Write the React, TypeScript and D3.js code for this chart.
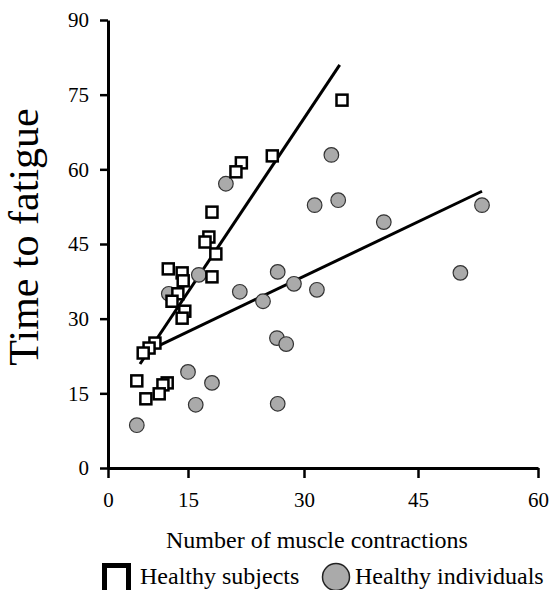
import React, { useRef, useEffect } from 'react';
import * as d3 from 'd3';

// [contractions, time to fatigue]
const healthySubjects: [number, number][] = [
  [35.0, 73.9], [25.9, 62.7], [21.9, 61.3], [21.2, 59.5], [18.1, 51.4],
  [17.7, 46.4], [17.2, 45.4], [18.6, 43.0], [11.3, 40.0], [13.9, 39.2],
  [14.1, 37.6], [18.1, 38.4], [13.1, 35.0], [12.0, 33.5], [14.4, 31.5],
  [13.9, 30.1], [8.8, 25.1], [7.7, 24.1], [6.6, 23.1], [5.4, 17.5],
  [11.1, 17.1], [10.3, 16.7], [9.6, 14.9], [7.1, 13.9],
];

const healthyIndividuals: [number, number][] = [
  [33.6, 62.9], [31.4, 52.8], [34.5, 53.8], [40.5, 49.4], [53.0, 52.8],
  [50.3, 39.2], [26.6, 39.4], [28.7, 37.0], [31.7, 35.8], [21.7, 35.4],
  [24.7, 33.5], [26.5, 26.1], [27.7, 24.9], [26.6, 12.9], [19.9, 57.1],
  [16.4, 38.8], [11.4, 35.0], [15.0, 19.3], [18.1, 17.1], [16.0, 12.7],
  [5.4, 8.6],
];

// regression line end points
const subjectsFit: [number, number][] = [[6.0, 20.9], [34.7, 81.0]];
const individualsFit: [number, number][] = [[9.75, 24.7], [53.0, 55.6]];

const xTicks = [0, 15, 30, 45, 60];
const yTicks = [0, 15, 30, 45, 60, 75, 90];

const legendLabels = ["Healthy subjects", "Healthy individuals"];

const FONT = "'Liberation Serif', 'Times New Roman', Times, serif";

const ScatterChart: React.FC = () => {
  const svgRef = useRef<SVGSVGElement>(null);

  useEffect(() => {
    if (!svgRef.current) return;
    const svg = d3.select(svgRef.current);
    svg.selectAll("*").remove();

    // the original axis does not space its ticks evenly
    const x = d3.scaleLinear().domain(xTicks).range([108, 188, 304, 418, 538]);
    const y = d3.scaleLinear().domain([0, 90]).range([468, 20]);

    // axes
    const xAxis = svg.append("g")
      .attr("transform", `translate(0,${y(0)})`)
      .call(d3.axisBottom(x).tickValues(xTicks).tickSize(10).tickSizeOuter(0))
      .attr("font-family", FONT)
      .attr("font-size", 21);
    xAxis.select(".domain").attr("stroke", "#000").attr("stroke-width", 3);
    xAxis.selectAll(".tick line").attr("stroke", "#000").attr("stroke-width", 2.5);
    xAxis.selectAll("text")
      .attr("y", 39).attr("dy", 0)
      .attr("fill", "#000");

    const yAxis = svg.append("g")
      .attr("transform", `translate(${x(0)},0)`)
      .call(d3.axisLeft(y).tickValues(yTicks).tickSize(8).tickSizeOuter(0))
      .attr("font-family", FONT)
      .attr("font-size", 21);
    yAxis.select(".domain").attr("stroke", "#000").attr("stroke-width", 3);
    yAxis.selectAll(".tick line").attr("stroke", "#000").attr("stroke-width", 2.5);
    yAxis.selectAll("text")
      .attr("x", -19).attr("dy", "0.33em")
      .attr("fill", "#000");

    // titles
    svg.append("text")
      .attr("x", 317).attr("y", 548)
      .attr("text-anchor", "middle")
      .attr("font-family", FONT).attr("font-size", 24)
      .text("Number of muscle contractions");

    svg.append("text")
      .attr("transform", "translate(38,237) rotate(-90)")
      .attr("text-anchor", "middle")
      .attr("font-family", FONT).attr("font-size", 42)
      .text("Time to fatigue");

    // fit lines
    const line = d3.line<[number, number]>()
      .x(d => x(d[0]))
      .y(d => y(d[1]));

    [subjectsFit, individualsFit].forEach(fit => {
      svg.append("path")
        .datum(fit)
        .attr("fill", "none")
        .attr("stroke", "#000")
        .attr("stroke-width", 3)
        .attr("d", line);
    });

    // points
    svg.append("g")
      .selectAll("circle")
      .data(healthyIndividuals)
      .join("circle")
      .attr("cx", d => x(d[0]))
      .attr("cy", d => y(d[1]))
      .attr("r", 7.3)
      .attr("fill", "#aaaaaa")
      .attr("stroke", "#333")
      .attr("stroke-width", 1.2);

    const side = 11;
    svg.append("g")
      .selectAll("rect")
      .data(healthySubjects)
      .join("rect")
      .attr("x", d => x(d[0]) - side / 2)
      .attr("y", d => y(d[1]) - side / 2)
      .attr("width", side)
      .attr("height", side)
      .attr("fill", "#fff")
      .attr("stroke", "#000")
      .attr("stroke-width", 2.5);

    // legend
    const legend = svg.append("g")
      .attr("font-family", FONT)
      .attr("font-size", 24);
    legend.append("rect")
      .attr("x", 104.5).attr("y", 565.5)
      .attr("width", 24).attr("height", 30)
      .attr("fill", "#fff").attr("stroke", "#000").attr("stroke-width", 5);
    legend.append("text")
      .attr("x", 140).attr("y", 584)
      .text(legendLabels[0]);

    legend.append("circle")
      .attr("cx", 336).attr("cy", 577).attr("r", 13.5)
      .attr("fill", "#aaaaaa").attr("stroke", "#222").attr("stroke-width", 1.5);
    legend.append("text")
      .attr("x", 355).attr("y", 584)
      .text(legendLabels[1]);
  }, []);

  return (
    <svg
      ref={svgRef}
      width={553}
      height={590}
      style={{ position: "absolute", left: 0, top: 0, background: "#fff" }}
    />
  );
};

export default function App() {
  return <ScatterChart />;
}
